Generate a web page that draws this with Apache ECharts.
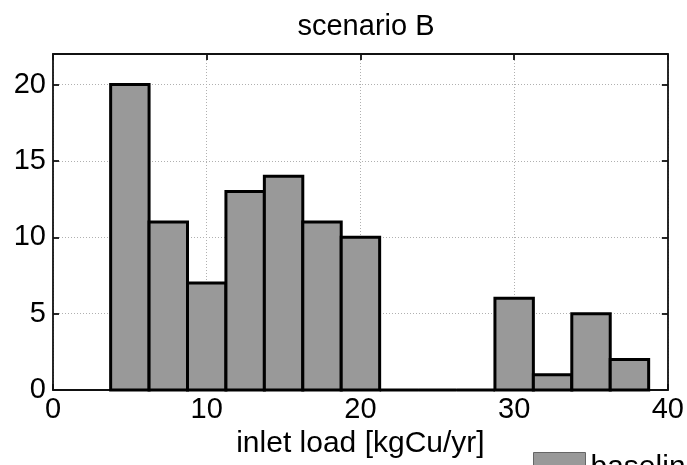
<!DOCTYPE html>
<html>
<head>
<meta charset="utf-8">
<script src="https://cdn.jsdelivr.net/npm/echarts@6/dist/echarts.min.js"></script>
<style>html,body{margin:0;padding:0;background:#fff}#c{width:687px;height:465px}</style>
</head>
<body>
<div id="c"></div>
<script>
var binCenters = [5, 7.5, 10, 12.5, 15, 17.5, 20, 22.5, 25, 27.5, 30, 32.5, 35, 37.5];
var counts     = [20, 11, 7, 13, 14, 11, 10, 0, 0, 0, 6, 1, 5, 2];
var binWidth = 2.5;
var xTicks = [0, 10, 20, 30, 40];
var yTicks = [0, 5, 10, 15, 20];
var seriesName = 'baseline';

var chart = echarts.init(document.getElementById('c'));
var font = 'Liberation Sans, Arial, sans-serif';
var data = binCenters.map(function (c, i) { return [c, counts[i]]; });

function axisCommon() {
  return {
    axisLine: { show: true, onZero: false, lineStyle: { color: '#111', width: 1.8 } },
    axisTick: { show: true, inside: true, length: 6, lineStyle: { color: '#111', width: 1.8 } },
    splitLine: { show: false }
  };
}
var gridLine = { show: true, lineStyle: { color: '#b0b0b0', type: [1, 2], width: 1 } };

chart.setOption({
  animation: false,
  backgroundColor: '#fff',
  title: {
    text: 'scenario B', left: 361, textAlign: 'center', top: 7,
    textStyle: { fontFamily: font, fontSize: 29, fontWeight: 'normal', color: '#000' }
  },
  legend: {
    left: 533, top: 452, itemWidth: 52, itemHeight: 30, padding: 0,
    icon: 'rect',
    itemStyle: { color: '#999999', borderColor: '#666', borderWidth: 1 },
    textStyle: { fontFamily: font, fontSize: 30, color: '#000' },
    data: [seriesName]
  },
  grid: { left: 53, right: 18, top: 54, bottom: 75 },
  xAxis: [
    Object.assign(axisCommon(), {
      type: 'value', min: 0, max: 40, interval: 10, position: 'bottom',
      axisLabel: { fontFamily: font, fontSize: 29, color: '#000', margin: 5 },
      splitLine: gridLine,
      name: 'inlet load [kgCu/yr]', nameLocation: 'middle', nameGap: 31,
      nameTextStyle: { fontFamily: font, fontSize: 30, color: '#000' }
    }),
    Object.assign(axisCommon(), {
      type: 'value', min: 0, max: 40, interval: 10, position: 'top',
      axisLabel: { show: false }
    })
  ],
  yAxis: [
    Object.assign(axisCommon(), {
      type: 'value', min: 0, max: 22, position: 'left',
      axisLabel: {
        fontFamily: font, fontSize: 29, color: '#000', margin: 7,
        customValues: yTicks
      },
      axisTick: { show: true, inside: true, length: 6, customValues: yTicks, lineStyle: { color: '#111', width: 1.8 } },
      splitLine: gridLine,
      interval: 5
    }),
    Object.assign(axisCommon(), {
      type: 'value', min: 0, max: 22, position: 'right',
      axisLabel: { show: false },
      axisTick: { show: true, inside: true, length: 6, customValues: yTicks, lineStyle: { color: '#111', width: 1.8 } }
    })
  ],
  series: [{
    name: seriesName,
    type: 'custom',
    xAxisIndex: 0, yAxisIndex: 0,
    itemStyle: { color: '#999999', borderColor: '#000', borderWidth: 3 },
    renderItem: function (params, api) {
      var c = api.value(0), v = api.value(1);
      var p0 = api.coord([c - binWidth / 2, v]);
      var p1 = api.coord([c + binWidth / 2, 0]);
      return {
        type: 'rect',
        shape: { x: p0[0], y: p0[1], width: p1[0] - p0[0], height: p1[1] - p0[1] },
        style: { fill: '#999999', stroke: '#000', lineWidth: 3 }
      };
    },
    encode: { x: 0, y: 1 },
    data: data
  }]
});
</script>
</body>
</html>
